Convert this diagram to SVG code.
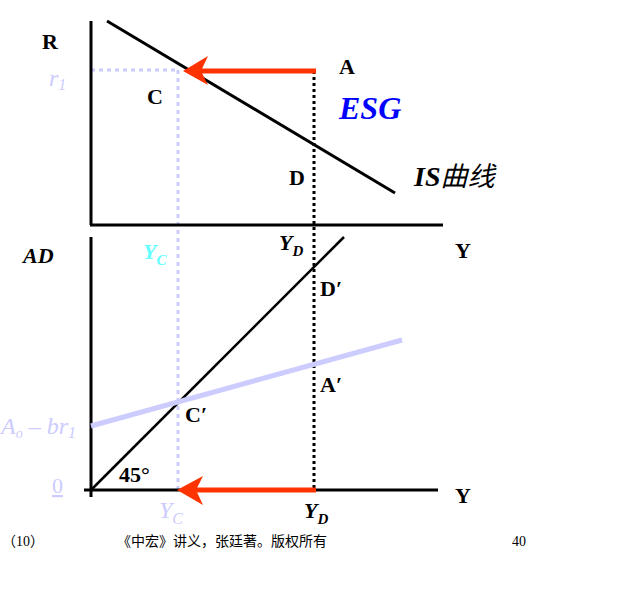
<svg xmlns="http://www.w3.org/2000/svg" width="636" height="597" viewBox="0 0 636 597">
<style>
.ax{stroke:#000;stroke-width:3;fill:none}
.ln{stroke:#000;stroke-width:3;fill:none}
.ln2{stroke:#000;stroke-width:2.5;fill:none}
.lb{stroke:#ccccff;stroke-width:3;stroke-dasharray:4 4;fill:none}
.bd{stroke:#000;stroke-width:3;stroke-dasharray:3 3;fill:none}
.red{stroke:#ff3300;stroke-width:5;fill:none}
.t{font-family:"Liberation Serif","Times New Roman",serif;font-weight:bold;font-size:22px;fill:#000}
.i{font-style:italic}
.f{font-family:"Liberation Serif","Noto Sans CJK SC",serif;font-size:14px;fill:#000}
</style>
<g id="connectors">
<line class="lb" x1="91" y1="70" x2="178" y2="70"/>
<line class="lb" x1="178" y1="70" x2="178" y2="490"/>
<line class="bd" x1="314" y1="71" x2="314" y2="490"/>
<line class="ax" x1="91" y1="21" x2="91" y2="225"/>
<line class="ax" x1="90" y1="225" x2="443" y2="225"/>
<line class="ax" x1="91" y1="237" x2="91" y2="497"/>
<line class="ax" x1="84" y1="490" x2="438" y2="490"/>
<line class="ln" x1="107" y1="21" x2="395" y2="193"/>
<line class="ln2" x1="91" y1="490" x2="344" y2="237"/>
<line stroke="#ccccff" stroke-width="5" x1="91" y1="426" x2="402" y2="340"/>
<line class="red" x1="316" y1="71" x2="200" y2="71"/>
<polygon fill="#ff3300" points="183,71 208,56 201,71 208,85"/>
<line class="red" x1="316" y1="490" x2="196" y2="490"/>
<polygon fill="#ff3300" points="177,490 203,476 196,490 203,505"/>
</g>
<g id="top-labels">
<text class="t" x="42" y="49">R</text>
<text class="t i" x="49" y="86" style="fill:#ccccff;font-weight:normal;font-size:24px">r<tspan font-size="16" dy="4">1</tspan></text>
<text class="t" x="147" y="104">C</text>
<text class="t" x="339" y="74">A</text>
<text class="t i" x="339" y="119" style="fill:#0000ff;font-size:32px">ESG</text>
<text class="t i" x="414" y="186" style="font-size:28px">IS<tspan font-family="Noto Sans CJK SC,sans-serif" font-weight="normal" font-size="27">曲线</tspan></text>
<text class="t" x="289" y="185">D</text>
</g>
<g id="bottom-labels">
<text class="t i" x="23" y="263">AD</text>
<text class="t i" x="143" y="259" style="fill:#66ffff">Y<tspan font-size="15" dy="6">C</tspan></text>
<text class="t i" x="279" y="250">Y<tspan font-size="15" dy="6">D</tspan></text>
<text class="t" x="455" y="258">Y</text>
<text class="t" x="320" y="296">D′</text>
<text class="t" x="320" y="392">A′</text>
<text class="t" x="185" y="422">C′</text>
<text class="t i" x="1" y="434" style="fill:#ccccff;font-weight:normal;font-size:24px">A<tspan font-size="14" dy="4">o</tspan><tspan dy="-4"> – br</tspan><tspan font-size="16" dy="4">1</tspan></text>
<text class="t" x="119" y="482">45°</text>
<text class="t" x="52" y="493" style="fill:#ccccff;font-weight:normal" text-decoration="underline">0</text>
<text class="t i" x="159" y="518" style="fill:#ccccff;font-weight:normal;font-size:24px">Y<tspan font-size="16" dy="6">C</tspan></text>
<text class="t i" x="304" y="518">Y<tspan font-size="15" dy="6">D</tspan></text>
<text class="t" x="455" y="503">Y</text>
</g>
<g id="footer">
<text class="f" x="2" y="546">（10）</text>
<text class="f" x="117" y="546">《中宏》讲义，张廷著。版权所有</text>
<text class="f" x="512" y="546">40</text>
</g>
</svg>
